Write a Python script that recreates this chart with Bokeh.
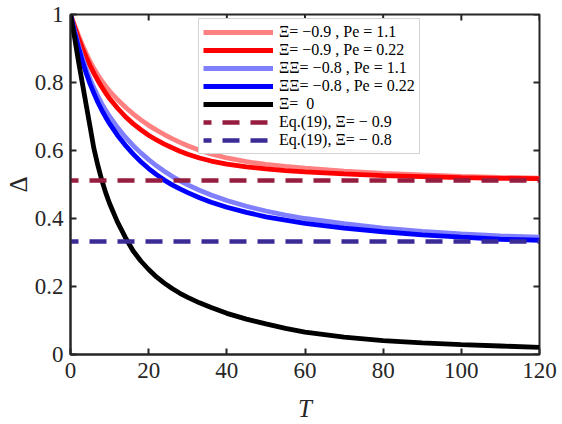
import math
from bokeh.plotting import figure
from bokeh.models import FixedTicker, Legend, LegendItem, Range1d
from bokeh.embed import file_html
from bokeh.resources import INLINE

# Dimensionless time grid
T = [0, 1, 2, 3, 4, 5, 6, 7, 8, 9, 10, 12, 14, 16, 18, 20, 22, 24, 26, 28, 30,
     33, 36, 40, 45, 50, 55, 60, 70, 80, 90, 100, 110, 120]

# Delta(T) for each case
delta_xi09_pe11 = [1.0, 0.97, 0.94, 0.912, 0.886, 0.862, 0.841, 0.822, 0.805,
                   0.789, 0.775, 0.750, 0.728, 0.708, 0.690, 0.674, 0.660, 0.647,
                   0.635, 0.624, 0.614, 0.601, 0.590, 0.578, 0.567, 0.559, 0.553,
                   0.548, 0.539, 0.533, 0.528, 0.524, 0.521, 0.519]
delta_xi09_pe022 = [1.0, 0.965, 0.932, 0.902, 0.875, 0.85, 0.827, 0.806, 0.787,
                    0.769, 0.753, 0.725, 0.70, 0.679, 0.661, 0.645, 0.631, 0.619,
                    0.608, 0.598, 0.589, 0.578, 0.569, 0.560, 0.552, 0.546, 0.541,
                    0.537, 0.531, 0.526, 0.523, 0.520, 0.518, 0.517]
delta_xi08_pe11 = [1.0, 0.955, 0.912, 0.874, 0.84, 0.81, 0.784, 0.76, 0.738,
                   0.718, 0.70, 0.668, 0.64, 0.615, 0.593, 0.573, 0.555, 0.539,
                   0.524, 0.511, 0.499, 0.483, 0.469, 0.453, 0.436, 0.422, 0.41,
                   0.40, 0.385, 0.372, 0.362, 0.355, 0.349, 0.345]
delta_xi08_pe022 = [1.0, 0.95, 0.905, 0.864, 0.828, 0.796, 0.768, 0.742, 0.719,
                    0.698, 0.679, 0.645, 0.616, 0.59, 0.567, 0.547, 0.529, 0.513,
                    0.499, 0.487, 0.476, 0.461, 0.448, 0.433, 0.418, 0.405, 0.395,
                    0.386, 0.372, 0.361, 0.352, 0.345, 0.339, 0.336]
delta_xi0 = [1.0, 0.935, 0.865, 0.80, 0.735, 0.67, 0.605, 0.556, 0.513, 0.476,
             0.444, 0.39, 0.345, 0.305, 0.275, 0.25, 0.228, 0.21, 0.194, 0.18,
             0.168, 0.152, 0.138, 0.121, 0.104, 0.09, 0.077, 0.066, 0.051, 0.041,
             0.034, 0.029, 0.025, 0.021]

# Asymptotic values from Eq.(19)
T_eq = [0, 120]
eq19_xi09 = [0.512, 0.512]
eq19_xi08 = [0.332, 0.332]

x_ticks = [0, 20, 40, 60, 80, 100, 120]
y_ticks = [0, 0.2, 0.4, 0.6, 0.8, 1]
y_tick_labels = ["0", "0.2", "0.4", "0.6", "0.8", "1"]

labels = ["Ξ= −0.9 , Pe = 1.1",
          "Ξ= −0.9 , Pe = 0.22",
          "ΞΞ= −0.8 , Pe = 1.1",
          "ΞΞ= −0.8 , Pe = 0.22",
          "Ξ=  0",
          "Eq.(19), Ξ= − 0.9",
          "Eq.(19), Ξ= − 0.8"]

FONT = "Liberation Serif"
AX = "#262626"

p = figure(width=562, height=424, output_backend="svg", toolbar_location=None,
           x_range=Range1d(0, 120), y_range=Range1d(0, 1),
           min_border_left=70, min_border_right=23, min_border_top=14,
           min_border_bottom=70, background_fill_color="white",
           border_fill_color="white")
p.grid.visible = False
p.outline_line_color = AX
p.outline_line_width = 2

LW = 4.8
r1 = p.line(T, delta_xi09_pe11, line_color="#FF8080", line_width=LW)
r2 = p.line(T, delta_xi09_pe022, line_color="#FF0000", line_width=LW)
r3 = p.line(T, delta_xi08_pe11, line_color="#8080FF", line_width=LW)
r4 = p.line(T, delta_xi08_pe022, line_color="#0000FF", line_width=LW)
r5 = p.line(T, delta_xi0, line_color="black", line_width=LW)
r6 = p.line(T_eq, eq19_xi09, line_color="#961D3F", line_width=4.5,
            line_dash="17 11", line_dash_offset=9)
r7 = p.line(T_eq, eq19_xi08, line_color="#3A2B96", line_width=4.5,
            line_dash="17 11", line_dash_offset=9)

# Mirrored inward ticks on the top and right edges (outer half is clipped)
p.scatter(x_ticks, [1] * len(x_ticks), marker="dash", size=12, angle=math.pi / 2,
          line_color=AX, line_width=2)
p.scatter([120] * len(y_ticks), y_ticks, marker="dash", size=12,
          line_color=AX, line_width=2)

# Bottom and left axes
for ax in (p.xaxis[0], p.yaxis[0]):
    ax.axis_line_width = 2
    ax.axis_line_color = AX
    ax.major_tick_line_width = 2
    ax.major_tick_line_color = AX
    ax.major_tick_in = 6
    ax.major_tick_out = 0
    ax.minor_tick_line_color = None
    ax.major_label_text_font = FONT
    ax.major_label_text_font_size = "23px"
    ax.major_label_text_color = AX
    ax.axis_label_text_font = FONT
    ax.axis_label_text_font_size = "25px"
    ax.axis_label_text_color = AX

p.xaxis[0].ticker = FixedTicker(ticks=x_ticks)
p.yaxis[0].ticker = FixedTicker(ticks=y_ticks)
p.yaxis[0].major_label_overrides = dict(zip(y_ticks, y_tick_labels))
p.xaxis[0].axis_label = "T"
p.xaxis[0].axis_label_text_font_style = "italic"
p.xaxis[0].major_label_standoff = 8
p.xaxis[0].axis_label_standoff = 14
p.yaxis[0].axis_label = "Δ"
p.yaxis[0].axis_label_text_font_style = "normal"
p.yaxis[0].major_label_standoff = 7
p.yaxis[0].axis_label_standoff = 0

legend = Legend(items=[LegendItem(label=l, renderers=[r])
                       for l, r in zip(labels, [r1, r2, r3, r4, r5, r6, r7])],
                location=(128, 200))
legend.label_text_font = FONT
legend.label_text_font_size = "16px"
legend.label_text_line_height = 1.0
legend.label_text_color = "black"
legend.glyph_width = 70
legend.glyph_height = 16
legend.label_height = 16
legend.spacing = 0
legend.padding = 4
legend.margin = 0
legend.label_standoff = 6
legend.border_line_color = "#A8A8A8"
legend.border_line_width = 1
legend.background_fill_color = "white"
legend.background_fill_alpha = 1
p.add_layout(legend, "center")

open("out.html", "w").write(file_html(p, INLINE))
